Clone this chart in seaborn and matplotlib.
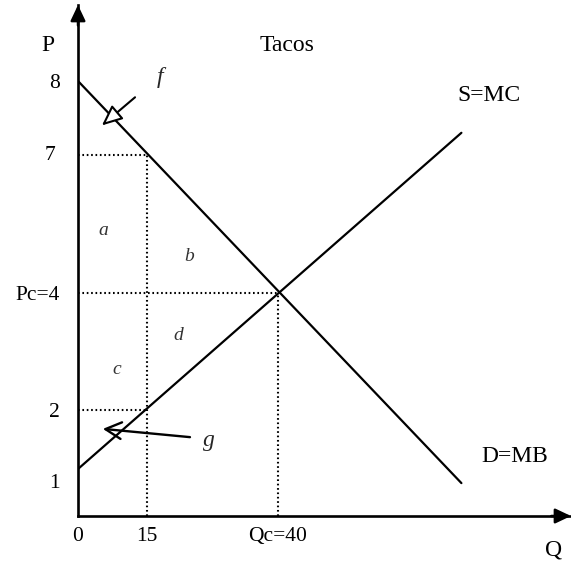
import numpy as np
import matplotlib
matplotlib.use("Agg")
import matplotlib.pyplot as plt
import seaborn as sns
import pandas as pd
from matplotlib.transforms import ScaledTranslation

# ---------------- data ----------------
q_ticks = [0, 15, 40]
q_tick_labels = ["0", "15", "Qc=40"]
p_ticks = [1, 2, 4, 7, 8]
p_tick_labels = ["1", "2", "Pc=4", "7", "8"]

demand_q = [0, 75]
demand_p = [8, 0.7]
supply_q = [0, 75]
supply_p = [1, 7.3]

q_eq, p_eq = 40, 4          # competitive equilibrium
q_low = 15                  # restricted quantity
p_high, p_low = 7, 2        # demand price / supply price at q_low

# schematic (hand-drawn) spacing of the axes: piecewise linear
q_knots = [-100, 0, 15, 40, 200]
q_space = [-460, 0, 69, 200, 200 + 160 * 5.24]
p_knots = [-10, 0, 1, 2, 4, 7, 8, 9, 20]
p_space = [-470, 0, 47, 106, 223, 361, 435, 511, 511 + 11 * 76]

def q_fwd(v):
    return np.interp(v, q_knots, q_space)

def q_inv(v):
    return np.interp(v, q_space, q_knots)

def p_fwd(v):
    return np.interp(v, p_knots, p_space)

def p_inv(v):
    return np.interp(v, p_space, p_knots)

# ---------------- style ----------------
sns.set_style("white")
plt.rcParams["font.family"] = ["Liberation Serif", "DejaVu Serif"]

fig = plt.figure(figsize=(5.71, 5.64), dpi=100)
ax = fig.add_axes([78 / 571, 48 / 564, 1 - 78 / 571, (564 - 48 - 5) / 564])
ax.set_xscale("function", functions=(q_fwd, q_inv))
ax.set_yscale("function", functions=(p_fwd, p_inv))

curves = pd.DataFrame({
    "Q": demand_q + supply_q,
    "P": demand_p + supply_p,
    "curve": ["D=MB"] * len(demand_q) + ["S=MC"] * len(supply_q),
})
sns.lineplot(data=curves, x="Q", y="P", hue="curve", units="curve",
             estimator=None, sort=False, palette=["black", "black"],
             linewidth=1.6, legend=False, ax=ax)

dot = dict(color="black", linewidth=1.5, linestyles=(0, (0.8, 1.3)))
ax.vlines(q_low, 0, p_high, **dot)
ax.hlines(p_high, 0, q_low, **dot)
ax.hlines(p_low, 0, q_low, **dot)
ax.hlines(p_eq, 0, q_eq, **dot)
ax.vlines(q_eq, 0, p_eq, **dot)

ax.set_xlim(0, q_inv(571 - 78))
ax.set_ylim(0, 9)
ax.set_xlabel("")
ax.set_ylabel("")

for s in ["top", "right"]:
    ax.spines[s].set_visible(False)
for s in ["left", "bottom"]:
    ax.spines[s].set_linewidth(1.9)
    ax.spines[s].set_color("black")

ax.set_xticks(q_ticks, q_tick_labels)
ax.set_yticks(p_ticks, p_tick_labels)
ax.tick_params(axis="both", length=0, labelsize=15.5, colors="black")
ax.tick_params(axis="y", pad=13)
ax.tick_params(axis="x", pad=8)
ax.minorticks_off()

for lbl in ax.get_yticklabels():
    if lbl.get_text() == "1":
        lbl.set_transform(lbl.get_transform() +
                          ScaledTranslation(0, -0.12, fig.dpi_scale_trans))
    if lbl.get_text() == "7":
        lbl.set_transform(lbl.get_transform() +
                          ScaledTranslation(-0.05, 0.02, fig.dpi_scale_trans))

# axis arrows
ax.annotate("", xy=(0, 1.0), xytext=(0, 0.96), xycoords="axes fraction",
            arrowprops=dict(arrowstyle="-|>,head_length=0.95,head_width=0.45",
                            fc="black", ec="black", lw=1.8, shrinkA=0, shrinkB=0,
                            mutation_scale=10),
            annotation_clip=False)
ax.annotate("", xy=(1.0, 0), xytext=(0.96, 0), xycoords="axes fraction",
            arrowprops=dict(arrowstyle="-|>,head_length=0.95,head_width=0.45",
                            fc="black", ec="black", lw=1.8, shrinkA=0, shrinkB=0,
                            mutation_scale=10),
            annotation_clip=False)

# labels
txt = dict(fontsize=17, color="black", ha="center", va="center")
ax.text(-6.5, 8.47, "P", clip_on=False, **txt)
ax.text(92.5, -0.72, "Q", clip_on=False, **txt)
ax.text(41.7, 8.47, "Tacos", **txt)
ax.text(80.3, 7.8, "S=MC", **txt)
ax.text(85.2, 1.22, "D=MB", **txt)

area = dict(fontsize=14, color="#333333", ha="center", va="center", style="italic")
ax.text(5.4, 5.35, "a", **area)
ax.text(23.0, 4.8, "b", **area)
ax.text(8.5, 2.7, "c", **area)
ax.text(21.0, 3.28, "d", **area)

ax.annotate("", xy=(5.2, 7.4), xytext=(12.4, 7.78),
            arrowprops=dict(arrowstyle="-|>,head_length=1.25,head_width=0.55",
                            fc="white", ec="black", lw=1.5, shrinkA=0, shrinkB=0,
                            mutation_scale=10))
ax.text(17.5, 8.05, "f", fontsize=17, style="italic", ha="center", va="center")

ax.annotate("", xy=(5.4, 1.68), xytext=(23.2, 1.54),
            arrowprops=dict(arrowstyle="->,head_length=1.15,head_width=0.6",
                            color="black", lw=1.7, shrinkA=0, shrinkB=0,
                            mutation_scale=10))
ax.text(26.8, 1.48, "g", fontsize=17, style="italic", ha="center", va="center")

fig.savefig("out.png", dpi=100, facecolor="white")
